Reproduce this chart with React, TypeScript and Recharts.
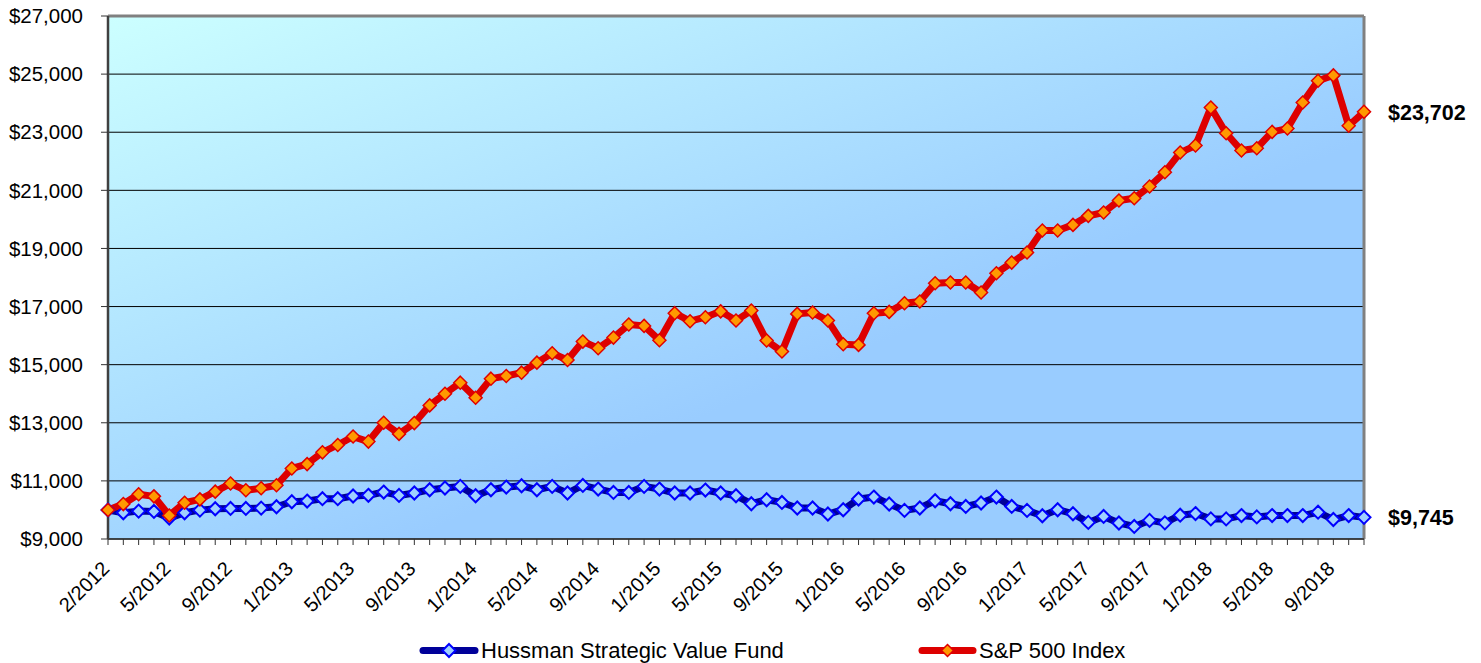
import { LineChart, Line, XAxis, YAxis, CartesianGrid, ReferenceLine } from "recharts";

const periods = [
  "2/2012", "2/2012", "3/2012", "4/2012", "5/2012", "6/2012", "7/2012", "8/2012", "9/2012", "10/2012", "11/2012", "12/2012",
  "1/2013", "2/2013", "3/2013", "4/2013", "5/2013", "6/2013", "7/2013", "8/2013", "9/2013", "10/2013", "11/2013", "12/2013",
  "1/2014", "2/2014", "3/2014", "4/2014", "5/2014", "6/2014", "7/2014", "8/2014", "9/2014", "10/2014", "11/2014", "12/2014",
  "1/2015", "2/2015", "3/2015", "4/2015", "5/2015", "6/2015", "7/2015", "8/2015", "9/2015", "10/2015", "11/2015", "12/2015",
  "1/2016", "2/2016", "3/2016", "4/2016", "5/2016", "6/2016", "7/2016", "8/2016", "9/2016", "10/2016", "11/2016", "12/2016",
  "1/2017", "2/2017", "3/2017", "4/2017", "5/2017", "6/2017", "7/2017", "8/2017", "9/2017", "10/2017", "11/2017", "12/2017",
  "1/2018", "2/2018", "3/2018", "4/2018", "5/2018", "6/2018", "7/2018", "8/2018", "9/2018", "10/2018", "11/2018",
];

const sp500 = [
  10000, 10202, 10538, 10468, 9809, 10249, 10364, 10630, 10908, 10676, 10746, 10850,
  11428, 11578, 11983, 12237, 12526, 12353, 13000, 12618, 12990, 13598, 14000, 14380,
  13862, 14518, 14610, 14725, 15070, 15392, 15162, 15795, 15564, 15932, 16381, 16335,
  15840, 16772, 16496, 16634, 16835, 16518, 16862, 15830, 15451, 16748, 16794, 16518,
  15704, 15681, 16771, 16816, 17115, 17172, 17803, 17826, 17826, 17482, 18147, 18514,
  18860, 19616, 19616, 19811, 20121, 20236, 20649, 20729, 21130, 21624, 22300, 22541,
  23849, 22966, 22369, 22449, 23011, 23126, 24021, 24770, 24956, 23222, 23702,
];

const hussman = [
  10000, 9902, 9960, 9948, 9720, 9902, 9994, 10040, 10052, 10052, 10064, 10110,
  10283, 10306, 10387, 10387, 10480, 10503, 10616, 10500, 10582, 10695, 10754, 10810,
  10489, 10695, 10788, 10833, 10695, 10810, 10582, 10844, 10719, 10603, 10603, 10810,
  10719, 10582, 10582, 10685, 10582, 10489, 10214, 10352, 10259, 10066, 10066, 9860,
  10008, 10376, 10444, 10204, 9985, 10066, 10317, 10214, 10121, 10238, 10444, 10121,
  9985, 9801, 10008, 9870, 9571, 9777, 9550, 9433, 9640, 9555, 9819, 9876,
  9692, 9692, 9807, 9761, 9807, 9807, 9807, 9922, 9670, 9807, 9745,
];

const yTicks = [9000, 11000, 13000, 15000, 17000, 19000, 21000, 23000, 25000, 27000];
const labelEvery = 4;

const data = periods.map((p, i) => ({ i, period: p, hussman: hussman[i], sp500: sp500[i] }));
const lastIdx = data.length - 1;

const FONT = "'Liberation Sans', Arial, sans-serif";
const money = (v: number) => "$" + v.toLocaleString("en-US");

const diamond = (cx: number, cy: number, r: number) =>
  `${cx},${cy - r} ${cx + r},${cy} ${cx},${cy + r} ${cx - r},${cy}`;

const RedDot = (p: any) => (
  <polygon key={`r-${p.index}`} points={diamond(p.cx, p.cy, 6.5)} fill="#FF9900" stroke="#E00000" strokeWidth={1.5} />
);

const BlueDot = (p: any) => (
  <polygon key={`b-${p.index}`} points={diamond(p.cx, p.cy, 6.5)} fill="#9FD0FF" stroke="#0000FF" strokeWidth={2} />
);

const XTick = (props: any) => {
  const { x, y, payload } = props;
  const i = payload.value;
  if (i % labelEvery !== 0) return <g />;
  const ox = x + 2.5;
  const oy = y + 23;
  return (
    <text x={ox} y={oy} transform={`rotate(-45, ${ox}, ${oy})`} textAnchor="end" fontSize={20} fontFamily={FONT} fill="#000">
      {periods[i]}
    </text>
  );
};

const endLabel = (props: any) => {
  const { x, y, index, value } = props;
  if (index !== lastIdx) return null;
  return (
    <text x={x + 24} y={y + 1} dominantBaseline="central" fontSize={21.5} fontWeight="bold" fontFamily={FONT} fill="#000">
      {money(value)}
    </text>
  );
};

const App = () => {
  return (
    <div style={{ position: "absolute", left: 0, top: 0, width: 1481, height: 663, background: "#fff" }}>
      <LineChart
        width={1481}
        height={663}
        data={data}
        margin={{ top: 16, right: 117, left: 0, bottom: 44 }}
      >
        <defs>
          <linearGradient id="plotBg" x1="0" y1="0" x2="0.62" y2="0.62">
            <stop offset="0%" stopColor="#CCFFFF" />
            <stop offset="100%" stopColor="#99CCFF" />
          </linearGradient>
        </defs>
        <CartesianGrid vertical={false} stroke="#000" strokeWidth={1} fill="url(#plotBg)" fillOpacity={1} />
        <XAxis
          type="number"
          dataKey="i"
          domain={[0, lastIdx]}
          ticks={data.map((d) => d.i)}
          interval={0}
          tick={XTick}
          tickSize={6}
          tickLine={{ stroke: "#333", strokeWidth: 1 }}
          axisLine={{ stroke: "#333", strokeWidth: 1.5 }}
          height={80}
        />
        <YAxis
          domain={[9000, 27000]}
          ticks={yTicks}
          interval={0}
          width={108}
          tickSize={7}
          tickMargin={18}
          tickFormatter={money}
          tick={{ fontSize: 20.5, fill: "#000", fontFamily: FONT }}
          tickLine={{ stroke: "#333", strokeWidth: 1 }}
          axisLine={{ stroke: "#404040", strokeWidth: 2.5 }}
        />
        <ReferenceLine y={27000} stroke="#808080" strokeWidth={3} />
        <ReferenceLine x={lastIdx} stroke="#808080" strokeWidth={3} />
        <Line
          type="linear"
          dataKey="hussman"
          stroke="#000099"
          strokeWidth={7}
          strokeLinejoin="round"
          dot={BlueDot}
          activeDot={false}
          label={endLabel}
          isAnimationActive={false}
        />
        <Line
          type="linear"
          dataKey="sp500"
          stroke="#DD0000"
          strokeWidth={7}
          strokeLinejoin="round"
          dot={RedDot}
          activeDot={false}
          label={endLabel}
          isAnimationActive={false}
        />
      </LineChart>
      <svg width={1481} height={663} style={{ position: "absolute", left: 0, top: 0, pointerEvents: "none" }}>
        <g fontFamily={FONT} fontSize={22} fill="#000">
          <line x1={423} y1={650.5} x2={475} y2={650.5} stroke="#000099" strokeWidth={7} strokeLinecap="round" />
          <polygon points={diamond(449, 650.5, 6.5)} fill="#9FD0FF" stroke="#0000FF" strokeWidth={2} />
          <text x={481} y={657.5}>Hussman Strategic Value Fund</text>
          <line x1={922} y1={650.5} x2={973} y2={650.5} stroke="#DD0000" strokeWidth={7} strokeLinecap="round" />
          <polygon points={diamond(947.5, 650.5, 6)} fill="#FF9900" stroke="#E00000" strokeWidth={1.5} />
          <text x={979} y={657.5}>S&amp;P 500 Index</text>
        </g>
      </svg>
    </div>
  );
};

export default App;
